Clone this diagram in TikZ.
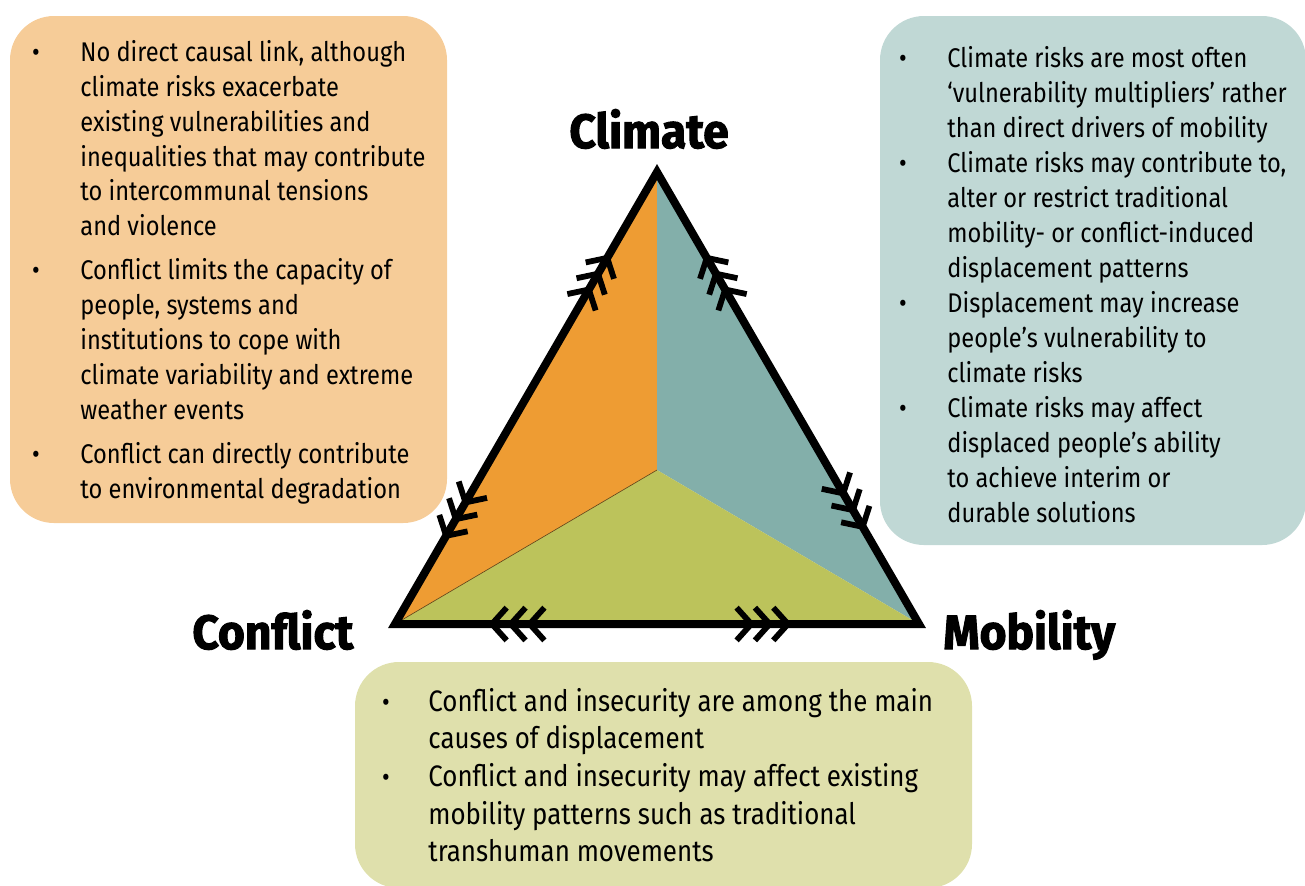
\documentclass[tikz,border=0pt]{standalone}
\usepackage{fontspec}
\setmainfont{Fira Sans}[FakeStretch=0.875]
\newfontfamily\heavyfont{Fira Sans}[FakeStretch=0.96,BoldFeatures={FakeBold=2.2}]
\usetikzlibrary{calc}
\definecolor{orbox}{RGB}{246,204,152}
\definecolor{orfill}{RGB}{238,156,51}
\definecolor{tlbox}{RGB}{192,216,213}
\definecolor{tlfill}{RGB}{131,175,170}
\definecolor{grbox}{RGB}{223,224,172}
\definecolor{grfill}{RGB}{188,195,91}
\tikzset{
  txt/.style={anchor=base west,inner sep=0pt,font=\fontsize{13.5pt}{16pt}\selectfont},
  btxt/.style={anchor=base west,inner sep=0pt,font=\fontsize{14.8pt}{17pt}\selectfont},
  bul/.style={anchor=base,inner sep=0pt,font=\fontsize{13.5pt}{16pt}\selectfont},
  title/.style={anchor=base west,inner sep=0pt,font=\heavyfont\bfseries\fontsize{24pt}{28pt}\selectfont},
  chev/.style={line width=2.9pt,line join=miter,line cap=butt},
  infobox/.style={rounded corners=22pt}
}
\newcommand\chevs[3]{%
  \foreach \f in {#3}{%
    \coordinate (t) at ($(#1)!\f!(#2)$);
    \draw[chev] ($(t)!11pt!48:(#2)$) -- (t) -- ($(t)!11pt!-48:(#2)$);
  }}
\begin{document}
\begin{tikzpicture}[x=0.5pt,y=-0.5pt]
\path[use as bounding box] (0,0) rectangle (1305,885);
% boxes
\fill[orbox,infobox] (10,16) rectangle (447,523);
\fill[tlbox,infobox] (880,16) rectangle (1306,545);
\fill[grbox,infobox] (355,662) rectangle (972,888);
% triangle
\coordinate (A) at (657,172);
\coordinate (L) at (395,624);
\coordinate (R) at (919,624);
\coordinate (C) at (657,470);
\fill[orfill] (A) -- (L) -- (C) -- cycle;
\fill[tlfill] (A) -- (C) -- (R) -- cycle;
\fill[grfill] (L) -- (C) -- (R) -- cycle;
\draw[line width=0.3pt,black!60!orfill] (L) -- (C);
\draw[line width=4pt,line join=miter] (A) -- (L) -- (R) -- cycle;
% chevrons
\chevs{A}{L}{0.19,0.225,0.26}
\chevs{A}{R}{0.19,0.225,0.26}
\chevs{L}{A}{0.195,0.232,0.269}
\chevs{R}{A}{0.215,0.252,0.289}
\chevs{L}{R}{0.185,0.221,0.257}
\chevs{R}{L}{0.25,0.285,0.32}
% titles
\node[title] (climate) at (569,148) {Climate};
\node[title] (conflict) at (192,649) {Conflict};
\node[title] (mobility) at (943,649) {Mobility};
% left box text
\node[bul] (lb1) at (36,61) {•};
\node[bul] (lb2) at (36,279) {•};
\node[bul] (lb3) at (36,463) {•};
\node[txt] (l1) at (80,61) {No direct causal link, although};
\node[txt] (l2) at (80,96) {climate risks exacerbate};
\node[txt] (l3) at (80,131) {existing vulnerabilities and};
\node[txt] (l4) at (80,166) {inequalities that may contribute};
\node[txt] (l5) at (80,200) {to intercommunal tensions};
\node[txt] (l6) at (80,235) {and violence};
\node[txt] (l7) at (80,279) {Conflict limits the capacity of};
\node[txt] (l8) at (80,314) {people, systems and};
\node[txt] (l9) at (80,349) {institutions to cope with};
\node[txt] (l10) at (80,384) {climate variability and extreme};
\node[txt] (l11) at (80,419) {weather events};
\node[txt] (l12) at (80,463) {Conflict can directly contribute};
\node[txt] (l13) at (80,498) {to environmental degradation};
% right box text
\node[bul] (rb1) at (903,67) {•};
\node[bul] (rb2) at (903,172) {•};
\node[bul] (rb3) at (903,312) {•};
\node[bul] (rb4) at (903,417) {•};
\node[txt] (r1) at (947,67) {Climate risks are most often};
\node[txt] (r2) at (947,102) {‘vulnerability multipliers’ rather};
\node[txt] (r3) at (947,137) {than direct drivers of mobility};
\node[txt] (r4) at (947,172) {Climate risks may contribute to,};
\node[txt] (r5) at (947,207) {alter or restrict traditional};
\node[txt] (r6) at (947,242) {mobility- or conflict-induced};
\node[txt] (r7) at (947,277) {displacement patterns};
\node[txt] (r8) at (947,312) {Displacement may increase};
\node[txt] (r9) at (947,347) {people’s vulnerability to};
\node[txt] (r10) at (947,382) {climate risks};
\node[txt] (r11) at (947,417) {Climate risks may affect};
\node[txt] (r12) at (947,452) {displaced people’s ability};
\node[txt] (r13) at (947,487) {to achieve interim or};
\node[txt] (r14) at (947,522) {durable solutions};
% bottom box text
\node[bul] (bb1) at (386,711) {•};
\node[bul] (bb2) at (386,786) {•};
\node[btxt] (b1) at (428,711) {Conflict and insecurity are among the main};
\node[btxt] (b2) at (428,748) {causes of displacement};
\node[btxt] (b3) at (428,786) {Conflict and insecurity may affect existing};
\node[btxt] (b4) at (428,824) {mobility patterns such as traditional};
\node[btxt] (b5) at (428,861) {transhuman movements};
\end{tikzpicture}
\end{document}
